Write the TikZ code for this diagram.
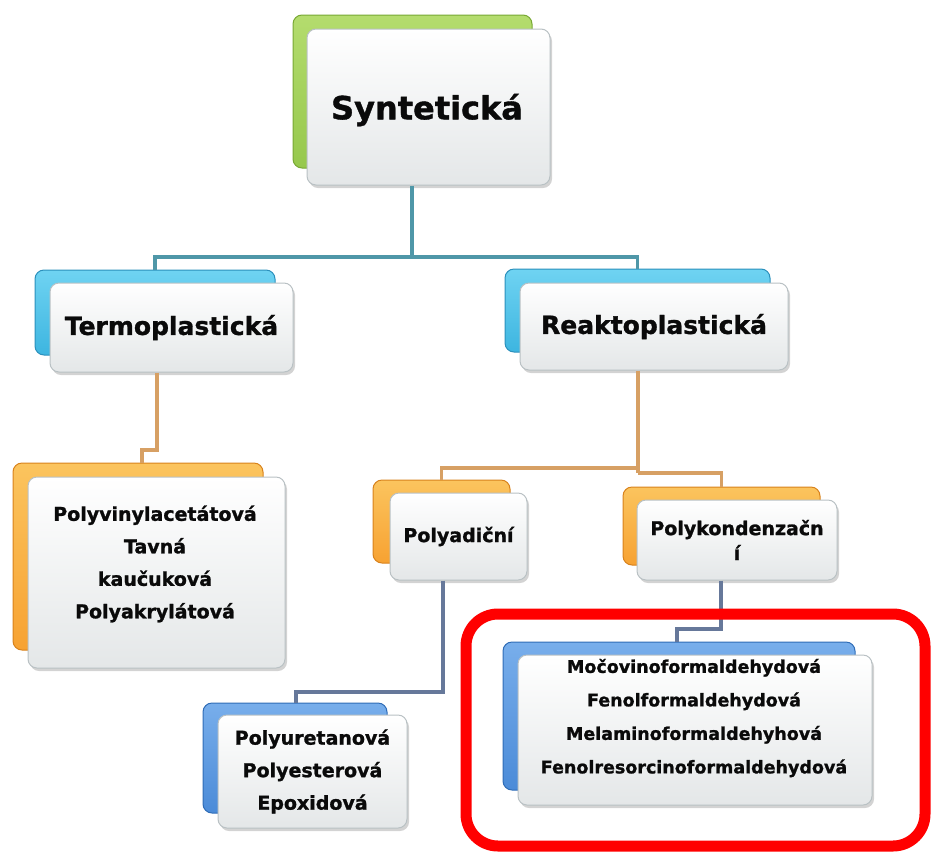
\documentclass[tikz,border=0pt]{standalone}
\usepackage{fontspec}
\setmainfont{DejaVu Sans}[BoldFeatures={FakeBold=1.2}]
\usetikzlibrary{shadows}
\definecolor{greenT}{HTML}{96C84C}
\definecolor{greenL}{HTML}{B4DC6E}
\definecolor{greenE}{HTML}{78A834}
\definecolor{cyanT}{HTML}{3DB5E0}
\definecolor{cyanL}{HTML}{6FD3F2}
\definecolor{cyanE}{HTML}{2B90BC}
\definecolor{orangeT}{HTML}{F7A232}
\definecolor{orangeL}{HTML}{FBC45E}
\definecolor{orangeE}{HTML}{D8821C}
\definecolor{blueT}{HTML}{4B8BD8}
\definecolor{blueL}{HTML}{78AEEB}
\definecolor{blueE}{HTML}{2F6CB6}
\definecolor{tealC}{HTML}{4F97A8}
\definecolor{orangeC}{HTML}{D7A064}
\definecolor{slateC}{HTML}{66789A}
\definecolor{cardE}{HTML}{B9C1C4}
\definecolor{cardB}{HTML}{E4E7E8}
\definecolor{txt}{HTML}{0A0A0A}
\tikzset{
  x=1pt, y=-1pt,
  tab/.style={rounded corners=9pt, line width=1pt, inner sep=0pt},
  card/.style={rounded corners=9pt, draw=cardE, line width=1pt, top color=white, bottom color=cardB,
    drop shadow={opacity=0.35, shadow xshift=2pt, shadow yshift=-3pt}, inner sep=0pt,
    align=center, text=txt, font=\bfseries},
  lbl/.style={align=center, text=txt, font=\bfseries, inner sep=0pt},
  conn/.style={line width=3.2pt},
}
\begin{document}
\begin{tikzpicture}
\useasboundingbox (0,0) rectangle (931,852);
% back tabs
\node[tab, draw=greenE, top color=greenL, bottom color=greenT, minimum width=239pt, minimum height=153pt] (synB) at (412.5,91.5) {};
\node[tab, draw=cyanE, top color=cyanL, bottom color=cyanT, minimum width=240pt, minimum height=85pt] (terB) at (155,312.5) {};
\node[tab, draw=cyanE, top color=cyanL, bottom color=cyanT, minimum width=265pt, minimum height=83pt] (reaB) at (637.5,310.5) {};
\node[tab, draw=orangeE, top color=orangeL, bottom color=orangeT, minimum width=250pt, minimum height=187pt] (pvB) at (138,556.5) {};
\node[tab, draw=orangeE, top color=orangeL, bottom color=orangeT, minimum width=137pt, minimum height=83pt] (padB) at (441.5,521.5) {};
\node[tab, draw=orangeE, top color=orangeL, bottom color=orangeT, minimum width=197pt, minimum height=78pt] (pkB) at (721.5,526) {};
\node[tab, draw=blueE, top color=blueL, bottom color=blueT, minimum width=184pt, minimum height=110pt] (puB) at (295,758) {};
\node[tab, draw=blueE, top color=blueL, bottom color=blueT, minimum width=352pt, minimum height=148pt] (mfB) at (679,716) {};
% front cards
\node[card, minimum width=243pt, minimum height=156pt] (syn) at (428.5,107) {};
\node[lbl, font=\bfseries\fontsize{32}{38}\selectfont] (synT) at (427,110) {Syntetická};
\node[card, minimum width=243pt, minimum height=89pt, font=\bfseries\fontsize{25}{30}\selectfont] (ter) at (171.5,327.5) {Termoplastická};
\node[card, minimum width=268pt, minimum height=87pt, font=\bfseries\fontsize{25}{30}\selectfont] (rea) at (654,326.5) {Reaktoplastická};
\node[card, minimum width=257pt, minimum height=191pt] (pv) at (156.5,572.5) {};
\node[lbl, font=\bfseries\fontsize{19}{32.5}\selectfont] (pvT) at (155,564) {Polyvinylacetátová\\Tavná\\kaučuková\\Polyakrylátová};
\node[card, minimum width=137pt, minimum height=87pt, font=\bfseries\fontsize{19}{24}\selectfont] (pad) at (458.5,536.5) {Polyadiční};
\node[card, minimum width=200pt, minimum height=80pt, font=\bfseries\fontsize{19}{25}\selectfont] (pk) at (737,540) {Polykondenzačn\\í};
\node[card, minimum width=189pt, minimum height=113pt, font=\bfseries\fontsize{19}{32.5}\selectfont] (pu) at (312.5,771.5) {Polyuretanová\\Polyesterová\\Epoxidová};
\node[card, minimum width=354pt, minimum height=150pt] (mf) at (695,730) {};
\node[lbl, font=\bfseries\fontsize{17.5}{33.5}\selectfont] (mfT) at (694,718) {Močovinoformaldehydová\\Fenolformaldehydová\\Melaminoformaldehyhová\\Fenolresorcinoformaldehydová};
% connectors
\coordinate (j1) at (412,257);
\coordinate (j2) at (638,468);
\coordinate (j3) at (638,473);
\draw[conn, draw=tealC] (syn.south -| j1) -- (j1);
\draw[conn, draw=tealC] (j1) -| (terB.north);
\draw[conn, draw=tealC] (j1) -| (reaB.north);
\draw[conn, draw=orangeC] (ter.south -| 157,0) -- (157,450) -- (142,450) -- (pvB.north -| 142,0);
\draw[conn, draw=orangeC] (rea.south -| j2) -- (j3);
\draw[conn, draw=orangeC] (j2) -| (padB.north);
\draw[conn, draw=orangeC] (j3) -| (pkB.north);
\draw[conn, draw=slateC] (pad.south -| 443,0) -- (443,692) -- (296,692) -- (puB.north -| 296,0);
\draw[conn, draw=slateC] (pk.south -| 721,0) -- (721,629) -- (677,629) -- (mfB.north -| 677,0);
% highlight frame
\node[draw=red, line width=11pt, rounded corners=32pt, minimum width=459pt, minimum height=232pt, inner sep=0pt] (hl) at (695.5,730) {};
\end{tikzpicture}
\end{document}
